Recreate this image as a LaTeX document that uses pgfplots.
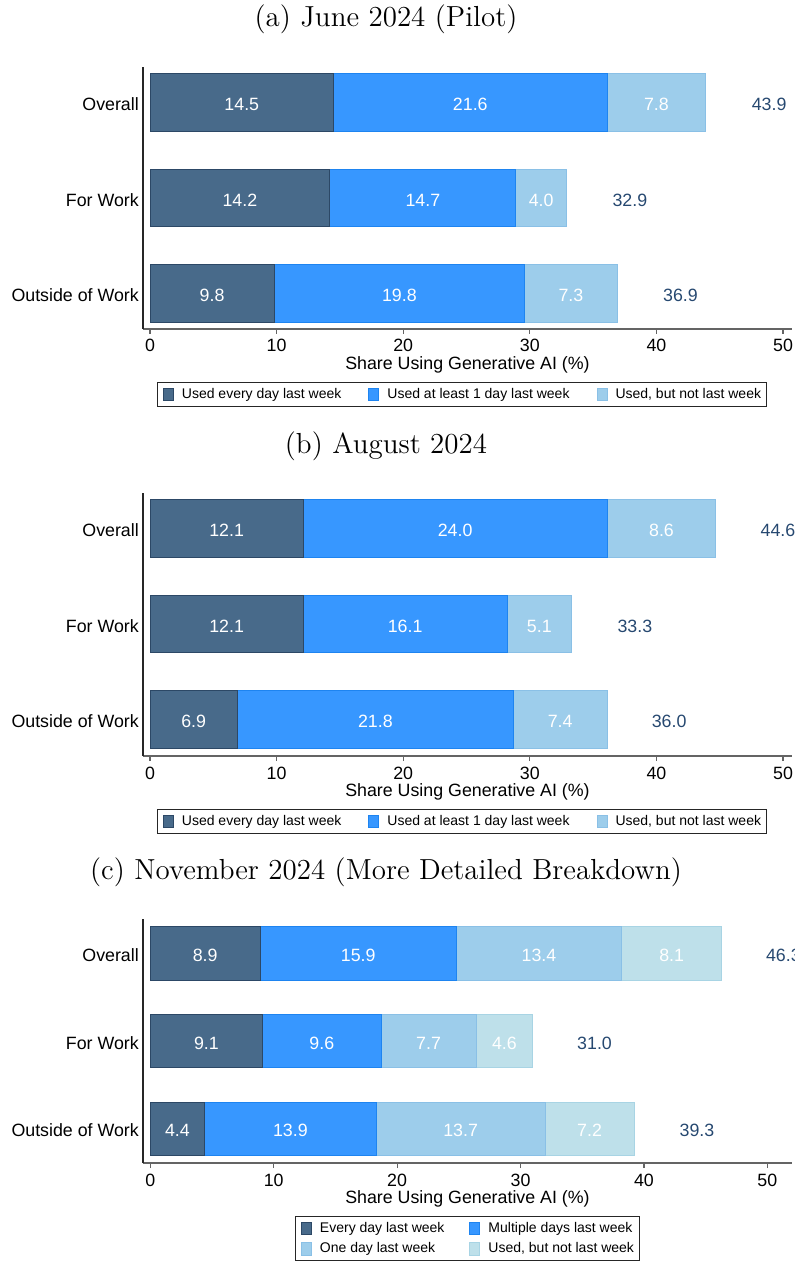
\documentclass[border=0pt]{standalone}
\usepackage{pgfplots}
\pgfplotsset{compat=1.18}
\usepackage{pgfplotstable}
\usepackage{fontspec}
\setsansfont{Liberation Sans}

\definecolor{cEvery}{RGB}{72,106,138}
\definecolor{cEveryD}{RGB}{44,72,102}
\definecolor{cWeek}{RGB}{55,151,255}
\definecolor{cWeekD}{RGB}{30,132,240}
\definecolor{cOne}{RGB}{157,205,235}
\definecolor{cOneD}{RGB}{138,192,230}
\definecolor{cPast}{RGB}{190,224,234}
\definecolor{cPastD}{RGB}{168,212,228}
\definecolor{cTotal}{RGB}{38,72,112}
\definecolor{cAxis}{RGB}{100,100,100}

\pgfkeys{/pgf/number format/assume math mode=true}

% pos: 3 = Overall, 2 = For Work, 1 = Outside of Work
\pgfplotstableread{
pos every week past total
3 14.5 21.6 7.8 43.9
2 14.2 14.7 4.0 32.9
1 9.8 19.8 7.3 36.9
}\tabJune
\pgfplotstableread{
pos every week past total
3 12.1 24.0 8.6 44.6
2 12.1 16.1 5.1 33.3
1 6.9 21.8 7.4 36.0
}\tabAug
\pgfplotstableread{
pos every multi one past total
3 8.9 15.9 13.4 8.1 46.3
2 9.1 9.6 7.7 4.6 31.0
1 4.4 13.9 13.7 7.2 39.3
}\tabNov

\newcommand{\chartfont}{\sffamily\fontsize{8.9}{10}\selectfont}
\newcommand{\legfont}{\sffamily\fontsize{7}{8}\selectfont}

\pgfplotsset{
  panel/.style={
    scale only axis, width=324.5pt,
    clip=false,
    font=\chartfont,
  },
  frame/.style={
    panel,
    axis x line=bottom, axis y line=left,
    axis line style={-},
    x axis line style={cAxis, line width=0.6pt},
    y axis line style={black!85, line width=0.6pt},
    xtick={0,10,...,50},
    ytick={1,2,3}, yticklabels={Outside of Work, For Work, Overall},
    ytick style={draw=none},
    xtick style={cAxis, line width=0.6pt},
    tick align=outside, major tick length=2.5pt,
    tick label style={font=\chartfont},
    xticklabel style={anchor=base, yshift=-9pt},
    yticklabel style={anchor=base east, inner sep=0pt, xshift=0.6pt, yshift=-4.1pt},
    xlabel={Share Using Generative AI (\%)},
    xlabel style={at={(axis description cs:0.5,0)}, anchor=base, yshift=-20pt, font=\chartfont},
    xbar stacked,
    legend cell align=left,
    legend style={draw=black!85, line width=0.5pt, fill=white, font=\legfont,
      inner xsep=2.5pt, inner ysep=2.6pt,
      nodes={inner sep=0pt},
      /tikz/every odd column/.append style={column sep=4pt},
      /tikz/every even column/.append style={column sep=13.5pt}},
  },
  sw/.style={legend image code/.code={\draw[##1, line width=0.5pt] (0pt,-3.15pt) rectangle (5pt,3.15pt);}},
  segA/.style={fill=cEvery, draw=cEveryD, line width=0.5pt, sw},
  segB/.style={fill=cWeek, draw=cWeekD, line width=0.5pt, sw},
  segC/.style={fill=cOne, draw=cOneD, line width=0.5pt, sw},
  segD/.style={fill=cPast, draw=cPastD, line width=0.5pt, sw},
  overlay/.style={panel, hide axis},
  vals/.style={only marks, mark=*, mark size=0pt, point meta=explicit,
    nodes near coords={\pgfmathprintnumber[fixed,fixed zerofill,precision=1]{\pgfplotspointmeta}},
    every node near coord/.append style={anchor=base, yshift=-4.1pt, inner sep=0pt, font=\chartfont, text=#1}},
}

\begin{document}
\begin{tikzpicture}

% ---------------- (a) June 2024 ----------------
\node[anchor=base, font=\rmfamily\fontsize{14.5}{17}\selectfont] at (193pt,-13.5pt) {(a) June 2024 (Pilot)};
\begin{axis}[frame, at={(71.5pt,-164.5pt)}, anchor=south west, height=131pt,
  xmin=-0.553, xmax=50.71, ymin=0.628, ymax=3.372, bar width=0.6,
  legend columns=3,
  legend style={at={(axis description cs:0.4915,0)}, anchor=north, yshift=-26.5pt}]
  \addplot[segA] table[x=every, y=pos]{\tabJune};
  \addplot[segB] table[x=week, y=pos]{\tabJune};
  \addplot[segC] table[x=past, y=pos]{\tabJune};
  \legend{Used every day last week, Used at least 1 day last week, {Used, but not last week}}
\end{axis}
\begin{axis}[overlay, at={(71.5pt,-164.5pt)}, anchor=south west, height=131pt,
  xmin=-0.553, xmax=50.71, ymin=0.628, ymax=3.372]
  \addplot[vals=white] table[x expr=\thisrow{every}/2, y=pos, meta=every]{\tabJune};
  \addplot[vals=white] table[x expr=\thisrow{every}+\thisrow{week}/2, y=pos, meta=week]{\tabJune};
  \addplot[vals=white] table[x expr=\thisrow{every}+\thisrow{week}+\thisrow{past}/2, y=pos, meta=past]{\tabJune};
  \addplot[vals=cTotal] table[x expr=\thisrow{total}+5, y=pos, meta=total]{\tabJune};
\end{axis}

% ---------------- (b) August 2024 ----------------
\node[anchor=base, font=\rmfamily\fontsize{14.5}{17}\selectfont] at (193pt,-226.5pt) {(b) August 2024};
\begin{axis}[frame, at={(71.5pt,-378pt)}, anchor=south west, height=131.5pt,
  xmin=-0.553, xmax=50.71, ymin=0.618, ymax=3.372, bar width=0.6,
  legend columns=3,
  legend style={at={(axis description cs:0.4915,0)}, anchor=north, yshift=-26.5pt}]
  \addplot[segA] table[x=every, y=pos]{\tabAug};
  \addplot[segB] table[x=week, y=pos]{\tabAug};
  \addplot[segC] table[x=past, y=pos]{\tabAug};
  \legend{Used every day last week, Used at least 1 day last week, {Used, but not last week}}
\end{axis}
\begin{axis}[overlay, at={(71.5pt,-378pt)}, anchor=south west, height=131.5pt,
  xmin=-0.553, xmax=50.71, ymin=0.618, ymax=3.372]
  \addplot[vals=white] table[x expr=\thisrow{every}/2, y=pos, meta=every]{\tabAug};
  \addplot[vals=white] table[x expr=\thisrow{every}+\thisrow{week}/2, y=pos, meta=week]{\tabAug};
  \addplot[vals=white] table[x expr=\thisrow{every}+\thisrow{week}+\thisrow{past}/2, y=pos, meta=past]{\tabAug};
  \addplot[vals=cTotal] table[x expr=\thisrow{total}+5, y=pos, meta=total]{\tabAug};
\end{axis}

% ---------------- (c) November 2024 ----------------
\node[anchor=base, font=\rmfamily\fontsize{14.5}{17}\selectfont] at (193pt,-439.5pt) {(c) November 2024 (More Detailed Breakdown)};
\begin{axis}[frame, at={(71.5pt,-581.5pt)}, anchor=south west, height=122pt,
  xmin=-0.59, xmax=52.0, ymin=0.606, ymax=3.394, bar width=0.606,
  legend columns=2,
  legend style={at={(axis description cs:0.5,0)}, anchor=north, yshift=-26.5pt,
    /tikz/every even column/.append style={column sep=12.5pt}, row sep=3.4pt}]
  \addplot[segA] table[x=every, y=pos]{\tabNov};
  \addplot[segB] table[x=multi, y=pos]{\tabNov};
  \addplot[segC] table[x=one, y=pos]{\tabNov};
  \addplot[segD] table[x=past, y=pos]{\tabNov};
  \legend{Every day last week, Multiple days last week, One day last week, {Used, but not last week}}
\end{axis}
\begin{axis}[overlay, at={(71.5pt,-581.5pt)}, anchor=south west, height=122pt,
  xmin=-0.59, xmax=52.0, ymin=0.606, ymax=3.394]
  \addplot[vals=white] table[x expr=\thisrow{every}/2, y=pos, meta=every]{\tabNov};
  \addplot[vals=white] table[x expr=\thisrow{every}+\thisrow{multi}/2, y=pos, meta=multi]{\tabNov};
  \addplot[vals=white] table[x expr=\thisrow{every}+\thisrow{multi}+\thisrow{one}/2, y=pos, meta=one]{\tabNov};
  \addplot[vals=white] table[x expr=\thisrow{every}+\thisrow{multi}+\thisrow{one}+\thisrow{past}/2, y=pos, meta=past]{\tabNov};
  \addplot[vals=cTotal] table[x expr=\thisrow{total}+5, y=pos, meta=total]{\tabNov};
\end{axis}

\pgfresetboundingbox
\useasboundingbox (0pt,0pt) rectangle (397.5pt,-630.5pt);
\end{tikzpicture}
\end{document}
